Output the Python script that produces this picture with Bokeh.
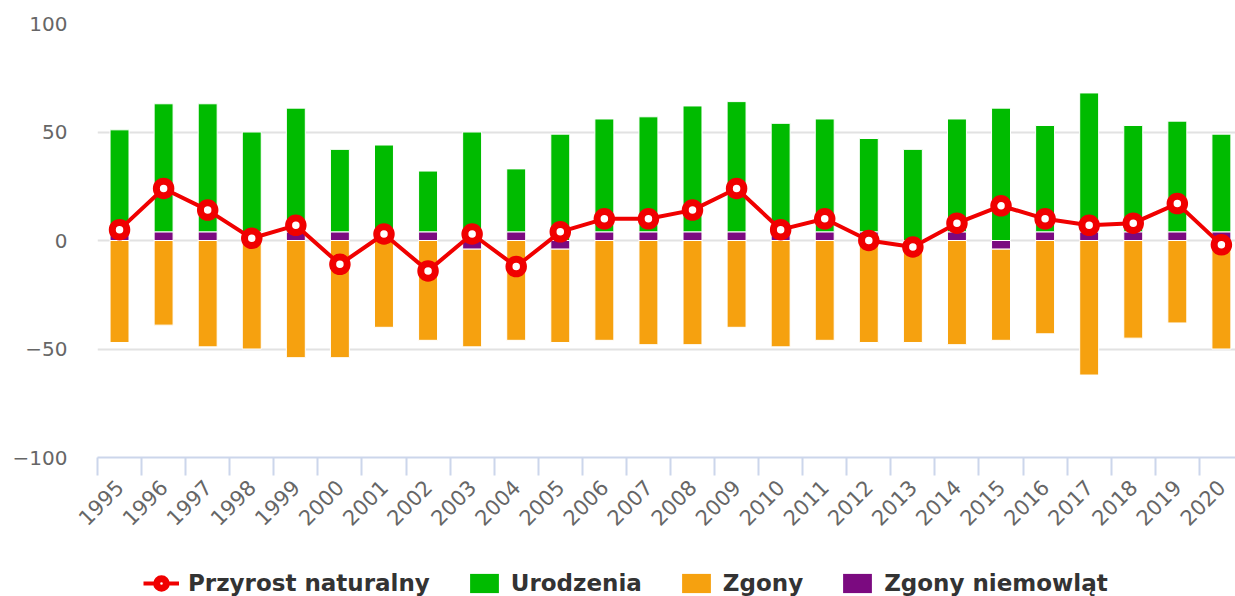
import numpy as np
from bokeh.plotting import figure
from bokeh.layouts import column
from bokeh.models import (Range1d, FixedTicker, Legend, LegendItem, ColumnDataSource, AllLabels)
from bokeh.embed import file_html
from bokeh.resources import INLINE
from math import pi

years = [str(y) for y in range(1995, 2021)]
urodzenia = [51, 63, 63, 50, 61, 42, 44, 32, 50, 33, 49, 56, 57, 62, 64, 54, 56, 47, 42, 56, 61, 53, 68, 53, 55, 49]
zgony = [-47, -39, -49, -50, -54, -54, -40, -46, -49, -46, -47, -46, -48, -48, -40, -49, -46, -47, -47, -48, -46, -43, -62, -45, -38, -50]
zgony_niemowlat = [4, 4, 4, 4, 4, 4, 4, 4, -4, 4, -4, 4, 4, 4, 4, 4, 4, 4, -4, 4, -4, 4, 4, 4, 4, 4]
przyrost = [5, 24, 14, 1, 7, -11, 3, -14, 3, -12, 4, 10, 10, 14, 24, 5, 10, 0, -3, 8, 16, 10, 7, 8, 17, -2]
y_ticks = [-100, -50, 0, 50, 100]

GREEN = "#00bb00"
ORANGE = "#f6a10f"
PURPLE = "#7b0a80"
RED = "#f00000"

x = np.arange(len(years))
niem = np.array(zgony_niemowlat, dtype=float)
pos_base = np.maximum(niem, 0)
neg_base = np.minimum(niem, 0)

src = ColumnDataSource(dict(
    x=x, uro=urodzenia, zg=zgony, niem=niem,
    pos_base=pos_base, neg_base=neg_base, prz=przyrost,
    zero=np.zeros(len(years)),
))

p = figure(width=1235, height=557, output_backend="svg", toolbar_location=None,
           x_range=Range1d(-0.5, 25.32), y_range=Range1d(-100, 100),
           min_border_left=97, min_border_right=0, min_border_top=23, min_border_bottom=100)
p.outline_line_color = None
p.background_fill_color = "white"
p.border_fill_color = "white"

BW = 0.43
p.vbar(x="x", width=BW, bottom="zero", top="niem", source=src,
       fill_color=PURPLE, line_color="white", line_width=1)
p.vbar(x="x", width=BW, bottom="pos_base", top="uro", source=src,
       fill_color=GREEN, line_color="white", line_width=1)
p.vbar(x="x", width=BW, bottom="zg", top="neg_base", source=src,
       fill_color=ORANGE, line_color="white", line_width=1)
p.line(x="x", y="prz", source=src, line_color=RED, line_width=4)
p.scatter(x="x", y="prz", source=src, marker="circle", size=14.5,
          fill_color="white", line_color=RED, line_width=7)

# y axis
p.yaxis.ticker = FixedTicker(ticks=y_ticks)
p.yaxis.major_label_overrides = {-100: "\u2212100", -50: "\u221250"}
p.yaxis.major_label_policy = AllLabels()
p.yaxis.axis_line_color = None
p.yaxis.major_tick_line_color = None
p.yaxis.minor_tick_line_color = None
p.yaxis.major_tick_out = 0
p.yaxis.major_tick_in = 0
p.yaxis.major_label_text_font = "DejaVu Sans"
p.yaxis.major_label_text_font_size = "20px"
p.yaxis.major_label_text_color = "#666666"
p.yaxis.major_label_text_align = "right"
p.yaxis.major_label_standoff = 30
p.ygrid.ticker = FixedTicker(ticks=y_ticks)
p.ygrid.grid_line_color = "#e2e2e2"
p.ygrid.grid_line_width = 2
p.xgrid.grid_line_color = None

# x axis
p.xaxis.ticker = FixedTicker(ticks=list(x), minor_ticks=[i - 0.5 for i in range(len(years) + 1)])
p.xaxis.major_label_overrides = {int(i): years[i] for i in range(len(years))}
p.xaxis.axis_line_color = "#ccd6eb"
p.xaxis.axis_line_width = 2
p.xaxis.major_tick_line_color = None
p.xaxis.minor_tick_line_color = "#ccd6eb"
p.xaxis.minor_tick_line_width = 2
p.xaxis.minor_tick_out = 18
p.xaxis.minor_tick_in = 0
p.xaxis.major_tick_out = 0
p.xaxis.major_tick_in = 0
p.xaxis.major_label_orientation = pi / 4
p.xaxis.major_label_text_font = "DejaVu Sans"
p.xaxis.major_label_text_font_size = "21px"
p.xaxis.major_label_text_color = "#666666"
p.xaxis.major_label_standoff = 8

# legend strip (own small figure so the legend can sit exactly at the bottom)
lg = figure(width=1235, height=39, output_backend="svg", toolbar_location=None,
            x_range=Range1d(0, 1), y_range=Range1d(0, 1),
            x_axis_type=None, y_axis_type=None, min_border=0)
lg.outline_line_color = None
lg.xgrid.grid_line_color = None
lg.ygrid.grid_line_color = None
# single off-range sample points: only their legend swatches are visible
l_line = lg.line([-5, -4], [-5, -5], line_color=RED, line_width=4)
l_pts = lg.scatter([-5], [-5], marker="circle", size=14.5, fill_color="white",
                   line_color=RED, line_width=7)
l_uro = lg.vbar(x=[-5], top=[-5], width=0.5, fill_color=GREEN, line_color=None)
l_zg = lg.vbar(x=[-5], top=[-5], width=0.5, fill_color=ORANGE, line_color=None)
l_niem = lg.vbar(x=[-5], top=[-5], width=0.5, fill_color=PURPLE, line_color=None)

legend = Legend(items=[
    LegendItem(label="Przyrost naturalny", renderers=[l_line, l_pts]),
    LegendItem(label="Urodzenia", renderers=[l_uro]),
    LegendItem(label="Zgony", renderers=[l_zg]),
    LegendItem(label="Zgony niemowląt", renderers=[l_niem]),
], orientation="horizontal", location=(46, 0))
legend.glyph_width = 36
legend.glyph_height = 24
legend.label_standoff = 9
legend.spacing = 36
legend.padding = 0
legend.margin = 0
legend.border_line_color = None
legend.background_fill_alpha = 0
legend.label_text_font = "DejaVu Sans"
legend.label_text_font_style = "bold"
legend.label_text_font_size = "23px"
legend.label_text_color = "#333333"
lg.add_layout(legend, "center")

layout = column(p, lg, spacing=0)
open("out.html", "w").write(file_html(layout, INLINE))
